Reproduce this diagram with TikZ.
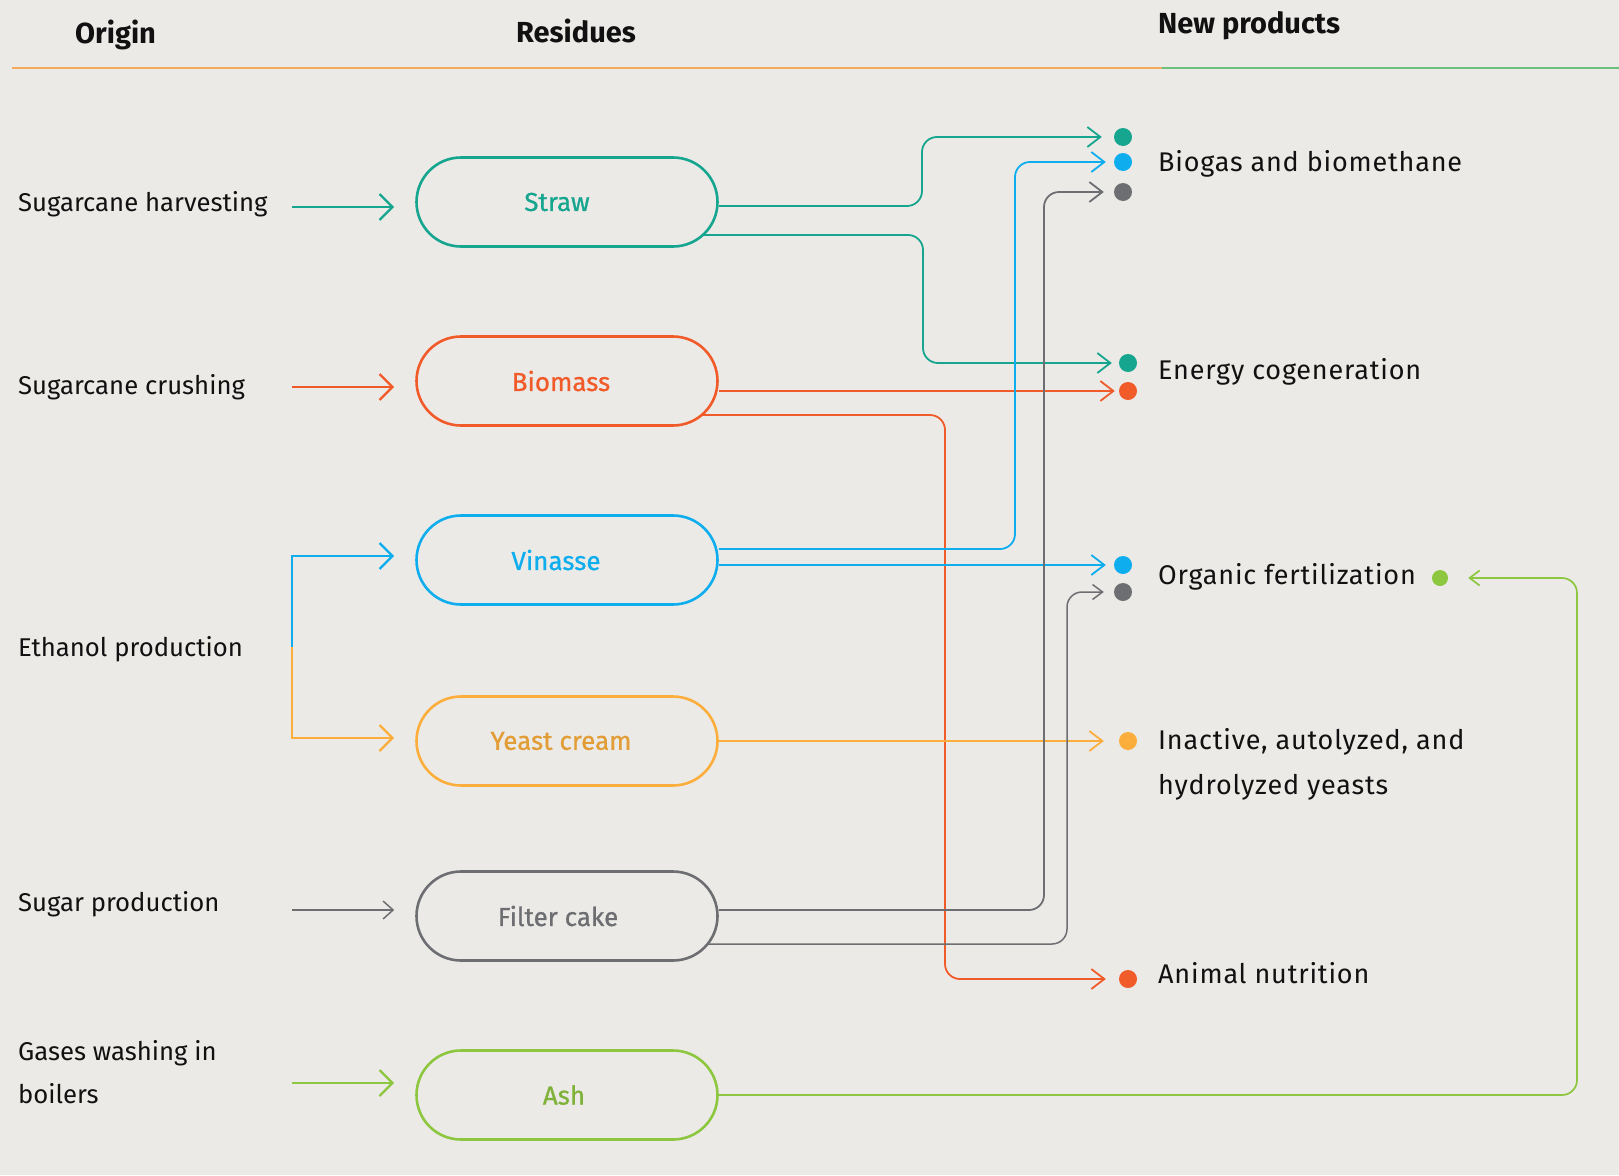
\documentclass[tikz,border=0pt]{standalone}
\usepackage{fontspec}
\setmainfont{Fira Sans}
\newfontfamily\boxfont{Fira Sans}[FakeBold=0.8]
\newfontfamily\prodfont{Fira Sans}[LetterSpace=3.0]
\usetikzlibrary{arrows.meta,shapes.misc,calc}

\definecolor{cTeal}{HTML}{16A58E}
\definecolor{cOrange}{HTML}{F15A29}
\definecolor{cBlue}{HTML}{0EADEE}
\definecolor{cYellow}{HTML}{FBAE3C}
\definecolor{cGray}{HTML}{6D6E71}
\definecolor{cGreen}{HTML}{8DC63F}
\definecolor{cRuleA}{HTML}{F4AA5C}
\definecolor{cRuleB}{HTML}{6CC17C}
\definecolor{cPaper}{HTML}{ECEAE7}
\definecolor{cInk}{HTML}{111111}

\begin{document}
\begin{tikzpicture}[x=1pt,y=-1pt,
  residue/.style={rounded rectangle, draw, line width=2.6pt,
    minimum width=301pt, minimum height=89pt, inner sep=0pt,
    font=\boxfont\fontsize{26}{30}\selectfont},
  label/.style={anchor=base west, inner sep=0pt, text=cInk, align=left,
    font=\fontsize{25.7}{43}\selectfont},
  plabel/.style={anchor=base west, inner sep=0pt, text=cInk, align=left,
    font=\prodfont\fontsize{27}{45}\selectfont},
  header/.style={anchor=base west, inner sep=0pt, text=cInk,
    font=\fontsize{29}{34}\selectfont\bfseries},
  feed/.style={line width=2.4pt, shorten >=21pt,
    -{Straight Barb[length=13pt,width=26pt]}},
  thinfeed/.style={line width=1.5pt, shorten >=21pt,
    -{Straight Barb[length=10pt,width=18pt]}},
  flow/.style={line width=1.8pt, rounded corners=15pt,
    -{Straight Barb[length=13pt,width=20pt]}},
  thinflow/.style={line width=1.5pt, rounded corners=15pt,
    -{Straight Barb[length=10pt,width=15pt]}},
  dot/.style={circle, inner sep=0pt, minimum size=18pt},
]
% paper
\fill[cPaper] (0,0) rectangle (1619,1175);
\useasboundingbox (0,0) rectangle (1619,1175);

% column headers and rule
\node[header] (hOrigin) at (75,43) {Origin};
\node[header] (hResidues) at (516,42) {Residues};
\node[header] (hProducts) at (1158,33) {New products};
\draw[cRuleA, line width=2pt] (12,68) -- (1162,68);
\draw[cRuleB, line width=2pt] (1162,68) -- (1619,68);

% origins (multi-line nodes sit on the baseline of their last line)
\node[label] (oHarv) at (18,211) {Sugarcane harvesting};
\node[label] (oCrush) at (18,394) {Sugarcane crushing};
\node[label] (oEth) at (18,656) {Ethanol production};
\node[label] (oSugar) at (18,911) {Sugar production};
\node[label] (oGas) at (18,1103) {Gases washing in\\boilers};

% residues
\node[residue, draw=cTeal, text=cTeal] (straw) at (567,202) {\hspace*{-20pt}Straw};
\node[residue, draw=cOrange, text=cOrange] (biomass) at (567,381) {\hspace*{-12pt}Biomass};
\node[residue, draw=cBlue, text=cBlue] (vinasse) at (567,560) {\hspace*{-22pt}Vinasse};
\node[residue, draw=cYellow, text=cYellow!90!black] (yeast) at (567,741) {\hspace*{-12pt}Yeast cream};
\node[residue, draw=cGray, text=cGray] (filter) at (567,916) {\hspace*{-18pt}Filter cake};
\node[residue, draw=cGreen, text=cGreen!90!black] (ash) at (567,1095) {\hspace*{-6pt}Ash};

% products
\node[plabel] (pBio) at (1158,171) {Biogas and biomethane};
\node[plabel] (pEnergy) at (1158,379) {Energy cogeneration};
\node[plabel] (pOrg) at (1158,584) {Organic fertilization};
\node[plabel] (pYeast) at (1158,794) {Inactive, autolyzed, and\\hydrolyzed yeasts};
\node[plabel] (pAnimal) at (1158,983) {Animal nutrition};

% product markers
\node[dot, fill=cTeal] (bg1) at (1123,137) {};
\node[dot, fill=cBlue] (bg2) at (1123,162) {};
\node[dot, fill=cGray] (bg3) at (1123,192) {};
\node[dot, fill=cTeal] (en1) at (1128,363) {};
\node[dot, fill=cOrange] (en2) at (1128,391) {};
\node[dot, fill=cBlue] (of1) at (1123,565) {};
\node[dot, fill=cGray] (of2) at (1123,592) {};
\node[dot, fill=cYellow] (in1) at (1128,741) {};
\node[dot, fill=cOrange] (an1) at (1128,979) {};
\node[dot, fill=cGreen, minimum size=16pt] (of3) at (1440,578) {};

% origin feeds
\coordinate (o1) at (292,207);
\coordinate (o2) at (292,387);
\coordinate (o3) at (292,647);
\coordinate (o4) at (292,910);
\coordinate (o5) at (292,1083);
\draw[feed, cTeal] (o1) -- (o1 -| straw.west);
\draw[feed, cOrange] (o2) -- (o2 -| biomass.west);
\draw[feed, cBlue] (o3) |- ([yshift=4pt]vinasse.west);
\draw[feed, cYellow] (o3) |- ([yshift=3pt]yeast.west);
\draw[thinfeed, cGray] (o4) -- (o4 -| filter.west);
\draw[feed, cGreen] (o5) -- (o5 -| ash.west);

% residue flows
\draw[flow, cTeal, shorten >=12pt] ([yshift=-4pt]straw.east)
  -| ([xshift=-201pt]bg1.center) -- (bg1);
\draw[flow, cTeal, shorten >=7pt] ($(straw.center)+(136,33)$)
  -| ([xshift=-205pt]en1.center) -- (en1);
\draw[flow, cOrange, shorten >=4pt] ([yshift=-10pt]biomass.east) -- (en2);
\draw[flow, cOrange, shorten >=13pt] ($(biomass.center)+(135,34)$)
  -| ([xshift=-183pt]an1.center) -- (an1);
\draw[flow, cBlue, shorten >=8pt] ([yshift=11pt]vinasse.east)
  -| ([xshift=-108pt]bg2.center) -- (bg2);
\draw[flow, cBlue, shorten >=8pt] ([yshift=-5pt]vinasse.east) -- (of1);
\draw[flow, cYellow, shorten >=15pt] (yeast.east) -- (in1);
\draw[flow, cGray, shorten >=10pt] ([yshift=6pt]filter.east)
  -| ([xshift=-79pt]bg3.center) -- (bg3);
\draw[thinflow, cGray, shorten >=10pt] ($(filter.center)+(140,28)$)
  -| ([xshift=-56pt]of2.center) -- (of2);
\draw[thinflow, cGreen, line width=1.7pt, shorten >=20pt] (ash.east)
  -| ([xshift=137pt]of3.center) -- (of3);
\end{tikzpicture}
\end{document}
